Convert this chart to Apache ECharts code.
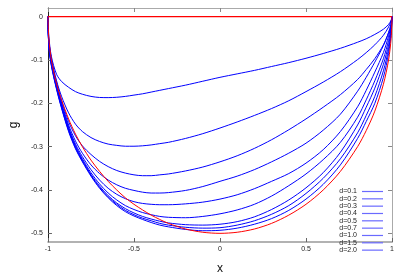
<!DOCTYPE html>
<html><head><meta charset="utf-8">
<script src="https://cdn.jsdelivr.net/npm/echarts@6/dist/echarts.min.js"></script>
<style>html,body{margin:0;padding:0;background:#fff}#c{width:400px;height:280px}</style>
</head><body><div id="c"></div>
<script>
// x positions of the sampled points (shared by all curves)
const xs = [-1, -0.995, -0.98, -0.95, -0.92, -0.88, -0.84, -0.8, -0.75, -0.7, -0.65, -0.6, -0.55, -0.5, -0.45, -0.4, -0.35, -0.3, -0.2, -0.1, 0, 0.1, 0.2, 0.3, 0.4, 0.5, 0.6, 0.7, 0.8, 0.85, 0.9, 0.95, 0.98, 0.995, 1];
const seriesNames = ['d=0.1','d=0.2','d=0.3','d=0.4','d=0.5','d=0.7','d=1.0','d=1.5','d=2.0'];
const g_d01 = [0,-0.045,-0.092,-0.133,-0.150,-0.163,-0.173,-0.179,-0.184,-0.1865,-0.1868,-0.186,-0.184,-0.181,-0.178,-0.174,-0.170,-0.166,-0.158,-0.149,-0.14,-0.132,-0.124,-0.115,-0.106,-0.096,-0.085,-0.073,-0.059,-0.051,-0.041,-0.029,-0.018,-0.008,0];
const g_d02 = [0,-0.055,-0.097,-0.148,-0.185,-0.222,-0.248,-0.265,-0.279,-0.288,-0.294,-0.297,-0.299,-0.299,-0.298,-0.296,-0.293,-0.29,-0.281,-0.27,-0.257,-0.243,-0.228,-0.212,-0.194,-0.173,-0.151,-0.127,-0.099,-0.083,-0.065,-0.043,-0.024,-0.01,0];
const g_d03 = [0,-0.058,-0.1,-0.152,-0.195,-0.242,-0.275,-0.298,-0.318,-0.334,-0.346,-0.355,-0.361,-0.365,-0.367,-0.367,-0.365,-0.363,-0.356,-0.347,-0.335,-0.321,-0.304,-0.284,-0.261,-0.236,-0.209,-0.18,-0.145,-0.122,-0.097,-0.065,-0.037,-0.017,0];
const g_d04 = [0,-0.062,-0.104,-0.156,-0.2,-0.25,-0.287,-0.315,-0.342,-0.362,-0.377,-0.388,-0.396,-0.401,-0.405,-0.407,-0.407,-0.406,-0.401,-0.392,-0.38,-0.368,-0.353,-0.335,-0.315,-0.292,-0.262,-0.225,-0.172,-0.14,-0.105,-0.067,-0.037,-0.017,0];
const g_d05 = [0,-0.064,-0.106,-0.16,-0.204,-0.255,-0.294,-0.323,-0.353,-0.377,-0.396,-0.41,-0.42,-0.427,-0.431,-0.433,-0.434,-0.434,-0.432,-0.428,-0.421,-0.411,-0.397,-0.38,-0.362,-0.338,-0.307,-0.265,-0.208,-0.17,-0.128,-0.083,-0.045,-0.02,0];
const g_d07 = [0,-0.065,-0.108,-0.162,-0.207,-0.258,-0.298,-0.328,-0.36,-0.386,-0.407,-0.423,-0.436,-0.445,-0.452,-0.457,-0.461,-0.463,-0.464,-0.461,-0.455,-0.446,-0.433,-0.414,-0.39,-0.363,-0.33,-0.29,-0.232,-0.192,-0.148,-0.097,-0.055,-0.025,0];
const g_d10 = [0,-0.066,-0.11,-0.164,-0.209,-0.261,-0.301,-0.331,-0.364,-0.391,-0.413,-0.43,-0.443,-0.453,-0.461,-0.467,-0.472,-0.476,-0.48,-0.481,-0.479,-0.473,-0.462,-0.445,-0.423,-0.395,-0.36,-0.313,-0.25,-0.209,-0.165,-0.11,-0.065,-0.03,0];
const g_d15 = [0,-0.067,-0.112,-0.166,-0.211,-0.263,-0.303,-0.333,-0.366,-0.394,-0.416,-0.433,-0.447,-0.457,-0.465,-0.471,-0.477,-0.481,-0.486,-0.488,-0.487,-0.481,-0.471,-0.456,-0.436,-0.408,-0.373,-0.328,-0.268,-0.228,-0.184,-0.125,-0.075,-0.035,0];
const g_d20 = [0,-0.068,-0.114,-0.168,-0.213,-0.265,-0.305,-0.335,-0.368,-0.396,-0.418,-0.436,-0.45,-0.46,-0.468,-0.475,-0.481,-0.485,-0.491,-0.494,-0.493,-0.488,-0.479,-0.466,-0.447,-0.421,-0.387,-0.342,-0.281,-0.242,-0.2,-0.14,-0.085,-0.04,0];
const g_red = [0,-0.05,-0.1,-0.155,-0.193,-0.236,-0.271,-0.3,-0.331,-0.357,-0.38,-0.4,-0.418,-0.433,-0.446,-0.458,-0.468,-0.477,-0.49,-0.4975,-0.5,-0.4975,-0.49,-0.477,-0.458,-0.433,-0.4,-0.357,-0.3,-0.263,-0.218,-0.156,-0.1,-0.05,0];
const zeroLineX = [-1, 1];
const zeroLineY = [0, 0];
const xTicks = [-1, -0.5, 0, 0.5, 1];
const yTicks = [0, -0.1, -0.2, -0.3, -0.4, -0.5];

const blueSets = [g_d01,g_d02,g_d03,g_d04,g_d05,g_d07,g_d10,g_d15,g_d20];
const pair = (X, Y) => X.map((x, i) => [x, Y[i]]);

const chart = echarts.init(document.getElementById('c'), null, {renderer: 'canvas'});
const font = 'Liberation Sans, Arial, sans-serif';
const series = [];
series.push({name:'zero', type:'line', data: pair(zeroLineX, zeroLineY), showSymbol:false, lineStyle:{color:'#ff0000', width:1.3}, z:3});
blueSets.forEach((arr, i) => {
  series.push({name: seriesNames[i], type:'line', data: pair(xs, arr), showSymbol:false,
    smooth: 0.3, color:'#0000ff', lineStyle:{color:'#0000ff', width:1}, z:2});
});
series.push({name:'red', type:'line', data: pair(xs, g_red), showSymbol:false, smooth:0.3,
  lineStyle:{color:'#ff0000', width:1}, z:3});

const baseX = {type:'value', min:-1, max:1, interval:0.5, splitLine:{show:false}};
const baseY = {type:'value', min:-0.52, max:0.02, splitLine:{show:false}};
chart.setOption({
  animation: false,
  backgroundColor: '#fff',
  grid: {left:45, right:8, top:8, bottom:24, containLabel:false},
  legend: {
    data: seriesNames, orient:'vertical', right:17, top:188, align:'right',
    icon:'rect', itemWidth:21, itemHeight:1.2, itemGap:0.33,
    itemStyle:{color:'#6a6aff'},
    textStyle:{fontSize:7, lineHeight:7, color:'#222', fontFamily:font, padding:[0,0,0,0]},
    padding:0, selectedMode:false
  },
  xAxis: [
    Object.assign({}, baseX, {position:'bottom',
      axisLine:{show:true, onZero:false, lineStyle:{color:'#999', width:1.5}},
      axisTick:{show:true, inside:true, length:4, lineStyle:{color:'#666'}, customValues: xTicks},
      axisLabel:{fontSize:7, color:'#222', margin:4, fontFamily:font, customValues: xTicks},
      name:'x', nameLocation:'middle', nameGap:21, nameTextStyle:{fontSize:12, color:'#111', fontFamily:font}}),
    Object.assign({}, baseX, {position:'top',
      axisLine:{show:true, onZero:false, lineStyle:{color:'#aaa', width:1}},
      axisTick:{show:true, inside:true, length:4, lineStyle:{color:'#888'}, customValues: xTicks},
      axisLabel:{show:false}})
  ],
  yAxis: [
    Object.assign({}, baseY, {position:'left',
      axisLine:{show:true, onZero:false, lineStyle:{color:'#222', width:1}},
      axisTick:{show:true, inside:true, length:4, lineStyle:{color:'#666'}, customValues: yTicks},
      axisLabel:{fontSize:7, color:'#222', margin:5, fontFamily:font, customValues: yTicks},
      name:'g', nameLocation:'middle', nameRotate:90, nameGap:20, nameTextStyle:{fontSize:12, color:'#111', fontFamily:font}}),
    Object.assign({}, baseY, {position:'right',
      axisLine:{show:true, onZero:false, lineStyle:{color:'#aaa', width:1}},
      axisTick:{show:true, inside:true, length:4, lineStyle:{color:'#888'}, customValues: yTicks},
      axisLabel:{show:false}})
  ],
  series: series
});
</script>
</body></html>
